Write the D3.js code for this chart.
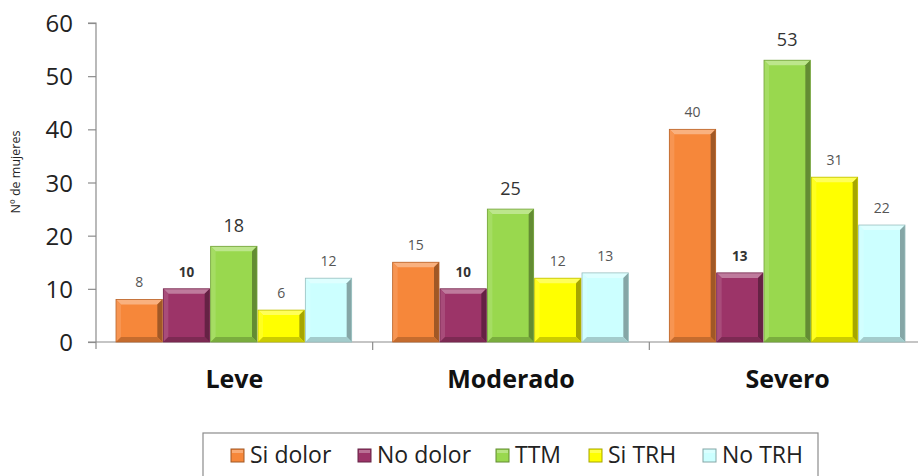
<!DOCTYPE html>
<html>
<head>
<meta charset="utf-8">
<script src="https://cdn.jsdelivr.net/npm/d3@7"></script>
<style>
  html, body { margin: 0; padding: 0; background: #fff; }
  svg { display: block; font-family: "Open Sans", "Noto Sans", sans-serif; }
</style>
</head>
<body>
<svg id="chart" width="918" height="476"></svg>
<script>
// Pain severity groups and the series counted in each
const categories = ["Leve", "Moderado", "Severo"];
const seriesNames = ["Si dolor", "No dolor", "TTM", "Si TRH", "No TRH"];
const siDolor = [8, 15, 40];
const noDolor = [10, 10, 13];
const ttm = [18, 25, 53];
const siTRH = [6, 12, 31];
const noTRH = [12, 13, 22];
const yTicks = [0, 10, 20, 30, 40, 50, 60];

const seriesValues = [siDolor, noDolor, ttm, siTRH, noTRH];
const colors = ["#F6873A", "#9C3468", "#99D84E", "#FFFF00", "#CCFFFF"];

const svg = d3.select("#chart");
const W = 918, H = 476;
const x0 = 96, x1 = 926;
const yTop = 23, yBot = 342;

const x = d3.scaleBand().domain(categories).range([x0, x1]);
const xs = d3.scaleBand().domain(seriesNames).range([20, x.bandwidth() - 20]);
const y = d3.scaleLinear().domain([0, 60]).range([yBot, yTop]);

// lighter (k > 0) or darker (k < 0) variant of a colour, used for the bevels
function shade(c, k) {
  if (k > 0) return d3.interpolateRgb(c, "#ffffff")(k);
  return d3.interpolateRgb(c, "#000000")(-k);
}

// y axis
const yAxis = d3.axisLeft(y).tickValues(yTicks).tickSize(8).tickPadding(15);
const gy = svg.append("g").attr("transform", `translate(${x0},0)`).call(yAxis);
gy.select(".domain").attr("stroke", "#8c8c8c").attr("stroke-width", 1.2)
  .attr("d", `M-8,${yTop}H0V${yBot + 7}`);
gy.selectAll(".tick line").attr("stroke", "#8c8c8c").attr("stroke-width", 1.2);
gy.selectAll(".tick text").attr("fill", "#222").attr("dy", "0.36em")
  .style("font-size", "24px")
  .style("font-family", "'Open Sans', sans-serif");

// y axis title
svg.append("text")
  .attr("transform", `translate(20,172) rotate(-90)`)
  .attr("text-anchor", "middle")
  .style("font-size", "12.5px").attr("fill", "#222")
  .text("Nº de mujeres");

// x axis line with group separators
const gx = svg.append("g");
gx.append("line").attr("x1", x0 - 8).attr("x2", W).attr("y1", yBot).attr("y2", yBot)
  .attr("stroke", "#8c8c8c").attr("stroke-width", 1.2);
categories.forEach(c => {
  const xe = x(c) + x.bandwidth();
  gx.append("line").attr("x1", xe).attr("x2", xe).attr("y1", yBot).attr("y2", yBot + 8)
    .attr("stroke", "#8c8c8c").attr("stroke-width", 1.2);
});
gx.selectAll("text.cat").data(categories).enter().append("text")
  .attr("class", "cat")
  .attr("x", d => x(d) + x.bandwidth() / 2)
  .attr("y", 388)
  .attr("text-anchor", "middle")
  .style("font-size", "25px").style("font-weight", "bold").attr("fill", "#111")
  .text(d => d);

// bars with bevelled edges
const bv = 5;
seriesNames.forEach((s, si) => {
  const col = colors[si];
  categories.forEach((c, ci) => {
    const v = seriesValues[si][ci];
    const bx = x(c) + xs(s);
    const bw = xs.bandwidth() - 1;
    const by = y(v), bh = yBot - y(v);
    const g = svg.append("g");
    g.append("rect").attr("x", bx).attr("y", by).attr("width", bw).attr("height", bh)
      .attr("fill", col);
    // top bevel
    g.append("polygon").attr("points",
      `${bx},${by} ${bx + bw},${by} ${bx + bw - bv},${by + bv} ${bx + bv},${by + bv}`)
      .attr("fill", shade(col, 0.35));
    // left bevel
    g.append("polygon").attr("points",
      `${bx},${by} ${bx + bv},${by + bv} ${bx + bv},${by + bh - bv} ${bx},${by + bh}`)
      .attr("fill", shade(col, 0.12));
    // right bevel
    g.append("polygon").attr("points",
      `${bx + bw},${by} ${bx + bw},${by + bh} ${bx + bw - bv},${by + bh - bv} ${bx + bw - bv},${by + bv}`)
      .attr("fill", shade(col, -0.35));
    // bottom bevel
    g.append("polygon").attr("points",
      `${bx},${by + bh} ${bx + bw},${by + bh} ${bx + bw - bv},${by + bh - bv} ${bx + bv},${by + bh - bv}`)
      .attr("fill", shade(col, -0.2));
    g.append("rect").attr("x", bx).attr("y", by).attr("width", bw).attr("height", bh)
      .attr("fill", "none").attr("stroke", shade(col, -0.25)).attr("stroke-width", 0.8);

    // value label
    const big = si === 2;
    const bold = si === 1;
    g.append("text")
      .attr("x", bx + bw / 2)
      .attr("y", by - (big ? 14 : 12))
      .attr("text-anchor", "middle")
      .style("font-size", big ? "18px" : (bold ? "13.5px" : "14px"))
      .style("font-weight", bold ? "bold" : "normal")
      .attr("fill", big || bold ? "#333" : "#555")
      .text(v);
  });
});

// legend
const lg = svg.append("g");
lg.append("rect").attr("x", 203).attr("y", 433).attr("width", 615).attr("height", 60)
  .attr("fill", "#fff").attr("stroke", "#8c8c8c").attr("stroke-width", 1.2);
const legendX = [231, 358, 496, 589, 703];
seriesNames.forEach((s, i) => {
  const lx = legendX[i];
  const col = colors[i];
  lg.append("rect").attr("x", lx).attr("y", 449).attr("width", 13).attr("height", 13)
    .attr("fill", col).attr("stroke", shade(col, -0.35)).attr("stroke-width", 1);
  lg.append("rect").attr("x", lx + 1).attr("y", 450).attr("width", 11).attr("height", 3)
    .attr("fill", shade(col, 0.3));
  lg.append("text").attr("x", lx + 19).attr("y", 463)
    .style("font-size", "23px").attr("fill", "#222").text(s);
});
</script>
</body>
</html>
